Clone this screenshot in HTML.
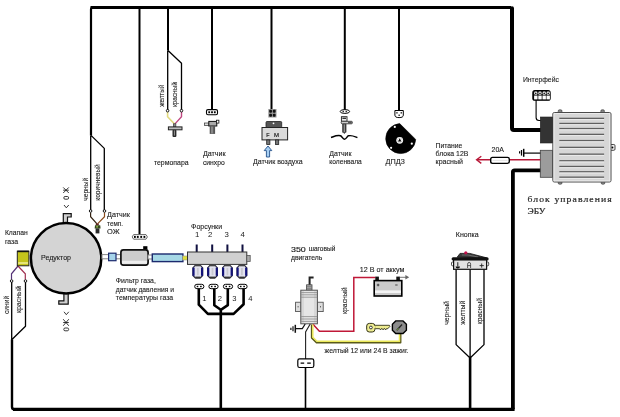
<!DOCTYPE html>
<html><head><meta charset="utf-8">
<style>
html,body{margin:0;padding:0;background:#fff;width:620px;height:417px;overflow:hidden}
svg{display:block;will-change:transform}
text{font-family:"Liberation Sans",sans-serif;fill:#222}
.m{font-family:"Liberation Mono",monospace}
text.s{font-family:"Liberation Serif",serif}
</style></head><body>
<svg width="620" height="417" viewBox="0 0 620 417">
<g fill="none" stroke="#000" stroke-linejoin="round">
<!-- frame -->
<path d="M91 135.4 V9.5 Q91 7.5 93 7.5" stroke-width="2.2"/>
<path d="M90.5 7.5 H511" stroke-width="3"/>
<path d="M512 8.2 V128 Q512 129.9 513.9 129.9 H541" stroke-width="4" stroke-linecap="round"/>
<path d="M541 170.4 H514.6 Q512.9 170.4 512.9 172.1 V409.3" stroke-width="3.8"/>
<path d="M12 339.6 V407 Q12 409.3 14.3 409.3 H512" stroke-width="2.4"/>
<path d="M13 409.4 H514.6" stroke-width="3.1"/>
<!-- top verticals 2px -->
<path d="M139.5 7 V235" stroke-width="2"/>
<path d="M168 7 V50.5" stroke-width="2"/>
<path d="M212 7 V109.5" stroke-width="2"/>
<path d="M271.5 7 V109" stroke-width="2"/>
<path d="M344.8 7 V110" stroke-width="2"/>
<path d="M399 7 V110.5" stroke-width="2"/>
<!-- thin splits -->
<path d="M90.7 135.4 V210 M91 135.4 L104.3 148.4 V210" stroke-width="1.3"/>
<path d="M167.7 50.5 V110 M168 50.5 L181.5 63.2 V110" stroke-width="1.3"/>
<path d="M11.7 281.5 V340 M25.5 281.5 V326.3 L11.7 339.8" stroke-width="1.3"/>
<path d="M456.1 268 V344.6 L470.1 358 M484 268 V344.6 L470.1 358 M470.1 268 V358" stroke-width="1.3"/>
<!-- bottom verticals -->
<path d="M470.1 357.5 V409" stroke-width="2.6"/>
<path d="M305.5 367.5 V409" stroke-width="1.6"/>
</g>

<!-- reducer -->
<path d="M63.3 223 V213.6 H71.2 V217 H67.5 V223 Z" fill="#d0d0d0" stroke="#111" stroke-width="1.2"/>
<path d="M68.2 293 V304.2 H58.8 V300.8 H63.9 V293 Z" fill="#d0d0d0" stroke="#111" stroke-width="1.2"/>
<circle cx="66.1" cy="258.2" r="35.2" fill="#d4d4d4" stroke="#000" stroke-width="2.5"/>
<!-- pipe reducer->filter -->
<rect x="102" y="254.6" width="19" height="4.2" fill="#fff" stroke="#888" stroke-width="1"/>
<rect x="108.6" y="253.2" width="7.4" height="7.5" fill="#a6d4ea" stroke="#1c2a6e" stroke-width="1.2"/>
<rect x="143.2" y="246.2" width="4.2" height="3.5" fill="#000"/>
<rect x="120.9" y="249.9" width="27.2" height="15.2" rx="2.5" fill="#cdcdcd" stroke="#111" stroke-width="1.7"/>
<rect x="122" y="260.8" width="25" height="3" fill="#eeeeee"/>
<rect x="148" y="255" width="5" height="4" fill="#fff" stroke="#888" stroke-width="1"/>
<rect x="152.3" y="254" width="30.6" height="7.6" fill="#a6d8e6" stroke="#1c2a6e" stroke-width="1.4"/>
<rect x="182.6" y="256" width="4.8" height="4" fill="#e0e040" stroke="#999" stroke-width="0.6"/>
<!-- rail -->
<path d="M196.7 244.4 V252 M212.2 244.4 V252 M227.4 244.4 V252 M242.5 244.4 V252" stroke="#101040" stroke-width="2"/>
<rect x="187.5" y="252" width="59.3" height="12.4" fill="#d0d0d0" stroke="#333" stroke-width="1"/>
<rect x="246.8" y="255.4" width="3.4" height="6" fill="#aaa" stroke="#555" stroke-width="0.8"/>
<path d="M195.4 265.2 H200.2 L202.7 267.9 V275.5 L200.2 278 H195.4 L192.9 275.5 V267.9 Z" fill="#e2e2ee" stroke="#2a2a3a" stroke-width="1.1" stroke-linejoin="round"/>
<rect x="192.5" y="267.6" width="2.1" height="8.2" fill="#12127a"/><rect x="201.0" y="267.6" width="2.1" height="8.2" fill="#12127a"/>
<rect x="195.3" y="264.5" width="5.0" height="1.8" fill="#444"/>
<rect x="195.3" y="276.6" width="5.0" height="1.9" fill="#333"/>
<rect x="196.9" y="268" width="1.8" height="7.2" fill="#c8c8d0"/>
<path d="M210.1 265.2 H214.9 L217.4 267.9 V275.5 L214.9 278 H210.1 L207.6 275.5 V267.9 Z" fill="#e2e2ee" stroke="#2a2a3a" stroke-width="1.1" stroke-linejoin="round"/>
<rect x="207.2" y="267.6" width="2.1" height="8.2" fill="#12127a"/><rect x="215.7" y="267.6" width="2.1" height="8.2" fill="#12127a"/>
<rect x="210.0" y="264.5" width="5.0" height="1.8" fill="#444"/>
<rect x="210.0" y="276.6" width="5.0" height="1.9" fill="#333"/>
<rect x="211.6" y="268" width="1.8" height="7.2" fill="#c8c8d0"/>
<path d="M225.0 265.2 H229.8 L232.3 267.9 V275.5 L229.8 278 H225.0 L222.5 275.5 V267.9 Z" fill="#e2e2ee" stroke="#2a2a3a" stroke-width="1.1" stroke-linejoin="round"/>
<rect x="222.1" y="267.6" width="2.1" height="8.2" fill="#12127a"/><rect x="230.6" y="267.6" width="2.1" height="8.2" fill="#12127a"/>
<rect x="224.9" y="264.5" width="5.0" height="1.8" fill="#444"/>
<rect x="224.9" y="276.6" width="5.0" height="1.9" fill="#333"/>
<rect x="226.5" y="268" width="1.8" height="7.2" fill="#c8c8d0"/>
<path d="M239.5 265.2 H244.3 L246.8 267.9 V275.5 L244.3 278 H239.5 L237.0 275.5 V267.9 Z" fill="#e2e2ee" stroke="#2a2a3a" stroke-width="1.1" stroke-linejoin="round"/>
<rect x="236.6" y="267.6" width="2.1" height="8.2" fill="#12127a"/><rect x="245.1" y="267.6" width="2.1" height="8.2" fill="#12127a"/>
<rect x="239.4" y="264.5" width="5.0" height="1.8" fill="#444"/>
<rect x="239.4" y="276.6" width="5.0" height="1.9" fill="#333"/>
<rect x="241.0" y="268" width="1.8" height="7.2" fill="#c8c8d0"/>
<rect x="194.70000000000002" y="284.3" width="9.2" height="4.4" rx="2.2" fill="#fff" stroke="#000" stroke-width="1"/>
<rect x="196.70000000000002" y="285.8" width="1.6" height="1.4" fill="#000"/><rect x="200.10000000000002" y="285.8" width="1.6" height="1.4" fill="#000"/>
<rect x="208.9" y="284.3" width="9.2" height="4.4" rx="2.2" fill="#fff" stroke="#000" stroke-width="1"/>
<rect x="210.9" y="285.8" width="1.6" height="1.4" fill="#000"/><rect x="214.3" y="285.8" width="1.6" height="1.4" fill="#000"/>
<rect x="223.4" y="284.3" width="9.2" height="4.4" rx="2.2" fill="#fff" stroke="#000" stroke-width="1"/>
<rect x="225.4" y="285.8" width="1.6" height="1.4" fill="#000"/><rect x="228.8" y="285.8" width="1.6" height="1.4" fill="#000"/>
<rect x="237.9" y="284.3" width="9.2" height="4.4" rx="2.2" fill="#fff" stroke="#000" stroke-width="1"/>
<rect x="239.9" y="285.8" width="1.6" height="1.4" fill="#000"/><rect x="243.3" y="285.8" width="1.6" height="1.4" fill="#000"/>
<path d="M198.8 288.6 V304.7 L207.9 313.9 H220.8 M214.3 288.6 V305.2 L220.8 309.8 M227.8 288.6 V305.2 L220.8 309.8 M243.6 288.6 V304.2 L233.6 313.9 H220.8 M220.8 309.5 V409" fill="none" stroke="#000" stroke-width="2.6" stroke-linejoin="round"/>

<!-- gas valve -->
<path d="M18 266 L11.5 273.8 V279.5" fill="none" stroke="#553377" stroke-width="1.2"/>
<path d="M18 266 L25.3 273.8 V279.5" fill="none" stroke="#a03050" stroke-width="1.2"/>
<rect x="17.3" y="251.2" width="11.6" height="14.6" fill="#c4c41c" stroke="#222" stroke-width="1"/>
<rect x="17.3" y="250.6" width="11.6" height="1.6" fill="#111"/>
<rect x="18.2" y="262.3" width="9.8" height="1.4" fill="#f4f4a0"/>
<circle cx="11.6" cy="281" r="1.3" fill="#fff" stroke="#000" stroke-width="0.9"/>
<circle cx="25.5" cy="281" r="1.3" fill="#fff" stroke="#000" stroke-width="0.9"/>
<!-- temp sensor OZh -->
<path d="M90.6 212.4 V216.7 L97 223.9" fill="none" stroke="#332211" stroke-width="1.2"/>
<path d="M104.5 212.4 V216.7 L97.5 223.9" fill="none" stroke="#8a4a1a" stroke-width="1.2"/>
<circle cx="90.6" cy="211" r="1.3" fill="#fff" stroke="#000" stroke-width="0.9"/>
<circle cx="104.5" cy="211" r="1.3" fill="#fff" stroke="#000" stroke-width="0.9"/>
<rect x="95.8" y="223.6" width="3" height="1.8" fill="#602020"/>
<path d="M95 225.2 H100.2 L100.6 228.6 H94.6 Z" fill="#34481c"/>
<rect x="96.2" y="225.8" width="1.8" height="1.8" fill="#88a848"/>
<rect x="95.6" y="228.4" width="3.8" height="5" fill="#2a2a2a"/>
<!-- connector 4 pin -->
<path d="M133.6 234.6 H146 L147.4 236.9 L146 239.2 H133.6 L132.2 236.9 Z" fill="#fff" stroke="#666" stroke-width="1"/>
<rect x="134" y="235.9" width="1.8" height="2" fill="#000"/><rect x="136.9" y="235.9" width="1.8" height="2" fill="#000"/><rect x="140.3" y="235.9" width="1.8" height="2" fill="#000"/><rect x="143.5" y="235.9" width="1.8" height="2" fill="#000"/>

<!-- thermocouple -->
<path d="M167.6 112 V116.7 L174.4 123.9" fill="none" stroke="#e2da80" stroke-width="1.6"/>
<path d="M181.5 112 V116.7 L175 123.9" fill="none" stroke="#c04880" stroke-width="1.4"/>
<circle cx="167.6" cy="110.7" r="1.3" fill="#fff" stroke="#000" stroke-width="0.9"/>
<circle cx="181.5" cy="110.7" r="1.3" fill="#fff" stroke="#000" stroke-width="0.9"/>
<rect x="173.3" y="123.8" width="2.6" height="3.2" fill="#888" stroke="#333" stroke-width="0.6"/>
<rect x="168.4" y="126.9" width="13.6" height="2.9" fill="#bbb" stroke="#222" stroke-width="1"/>
<rect x="172.5" y="129.8" width="3.9" height="7.2" rx="1" fill="#2a2a2a"/>
<rect x="173.9" y="130.4" width="1.1" height="5.2" fill="#8a8a8a"/>
<!-- sinhro -->
<rect x="206.5" y="109.6" width="11" height="5.2" rx="1.5" fill="#fff" stroke="#000" stroke-width="1.1"/>
<rect x="208.3" y="111.3" width="1.8" height="1.9" fill="#000"/><rect x="211.1" y="111.3" width="1.8" height="1.9" fill="#000"/><rect x="213.9" y="111.3" width="1.8" height="1.9" fill="#000"/>
<rect x="204.5" y="123" width="4.6" height="2.6" fill="#ddd" stroke="#333" stroke-width="0.7"/>
<rect x="208.8" y="121.4" width="8" height="4.6" fill="#aaa" stroke="#111" stroke-width="1"/>
<rect x="216.4" y="120.2" width="2.5" height="2.9" fill="#fff" stroke="#111" stroke-width="0.8"/>
<rect x="209.7" y="126" width="5.4" height="7.9" fill="#555"/>
<rect x="211" y="126.5" width="2.2" height="7" fill="#888"/>
<!-- air sensor -->
<rect x="268.3" y="109" width="8.2" height="8.5" fill="#999"/>
<rect x="269.2" y="109.8" width="2.8" height="3" rx="1" fill="#111"/><rect x="272.8" y="109.8" width="2.8" height="3" rx="1" fill="#111"/>
<rect x="269.2" y="113.8" width="2.8" height="3" rx="1" fill="#111"/><rect x="272.8" y="113.8" width="2.8" height="3" rx="1" fill="#111"/>
<rect x="266" y="121.5" width="15.7" height="6" rx="1" fill="#555" stroke="#222" stroke-width="0.8"/>
<circle cx="273.5" cy="123.3" r="0.9" fill="#fff"/>
<rect x="262" y="127.5" width="25.6" height="12.4" fill="#dadada" stroke="#222" stroke-width="1"/>
<text x="266.3" y="137.1" font-size="5.4" fill="#2a2a2a" stroke="#2a2a2a" stroke-width="0.2">F</text><text x="274" y="137.1" font-size="5.4" textLength="5" lengthAdjust="spacingAndGlyphs" fill="#2a2a2a" stroke="#2a2a2a" stroke-width="0.2">M</text>
<rect x="266.7" y="139.9" width="3.2" height="4.6" fill="#777" stroke="#222" stroke-width="0.8"/>
<rect x="275.5" y="139.9" width="3.2" height="4.6" fill="#777" stroke="#222" stroke-width="0.8"/>
<path d="M268 146 L271.8 150.6 H269.6 V157 H266.4 V150.6 H264.2 Z" fill="#a8d0f4" stroke="#24508a" stroke-width="0.9"/>
<!-- crank sensor -->
<ellipse cx="344.9" cy="111.5" rx="4.7" ry="1.9" fill="#fff" stroke="#000" stroke-width="1"/>
<rect x="342.6" y="110.9" width="1.2" height="1.2" fill="#000"/><rect x="345.6" y="110.9" width="1.2" height="1.2" fill="#000"/>
<rect x="341.4" y="116.7" width="5.6" height="4.6" fill="#eee" stroke="#222" stroke-width="0.9"/>
<rect x="342.4" y="117.6" width="3.6" height="1.4" fill="#333"/>
<rect x="341.2" y="121.3" width="11.2" height="2.5" rx="1" fill="#ccc" stroke="#222" stroke-width="0.8"/><rect x="348" y="121.6" width="3.8" height="1.9" fill="#555"/>
<rect x="342.2" y="123.8" width="4.2" height="8.9" rx="0.8" fill="#3a3a3a"/><path d="M343.3 132.5 L344.3 134 L345.3 132.5 Z" fill="#222"/>
<rect x="343.7" y="124.4" width="1.2" height="7.6" fill="#9a9a9a"/>
<path d="M331 137.5 C334 136.5 337 135 340.5 135.8 C342 136.2 342.6 139.2 344.4 139.2 C346.4 139.2 347 136.2 348.5 135.8 C351.8 135 354.6 136.5 357.4 137.6" fill="none" stroke="#000" stroke-width="1.5"/>
<!-- DPDZ -->
<path d="M394.9 110.5 H403.3 V115.2 Q403.3 117.6 399.1 117.6 Q394.9 117.6 394.9 115.2 Z" fill="#fff" stroke="#000" stroke-width="1"/>
<rect x="396.3" y="112.2" width="1.3" height="1.3" fill="#000"/><rect x="400.6" y="112.2" width="1.3" height="1.3" fill="#000"/><rect x="398.5" y="114.6" width="1.3" height="1.3" fill="#000"/>
<path d="M399.7 123.6 L415.7 139.4 A15 15 0 1 1 399.7 123.6 Z" fill="#000" stroke="#000" stroke-width="0.6" stroke-linejoin="round"/>
<circle cx="394.8" cy="126.9" r="1.1" fill="#fff"/>
<circle cx="411.8" cy="143.7" r="1.1" fill="#fff"/>
<circle cx="391.1" cy="147.8" r="1.1" fill="#fff"/>
<circle cx="399.7" cy="140.3" r="3.4" fill="#fff"/><circle cx="399.7" cy="140.3" r="2.4" fill="none" stroke="#aaa" stroke-width="0.5"/>
<path d="M399.7 138.2 L401.4 141.4 H398 Z" fill="#000"/>

<!-- interface connector -->
<path d="M536.1 100 V117.5 Q536.1 120.5 539 120.5 H541" fill="none" stroke="#000" stroke-width="1.1"/>
<rect x="532.9" y="90.7" width="17.2" height="9.5" rx="2" fill="#111" stroke="#000" stroke-width="1.2"/>
<rect x="534.2" y="91.6" width="3.2" height="3.2" rx="1.3" fill="#fff"/><circle cx="535.8" cy="93.4" r="0.8" fill="#111"/><rect x="534.1" y="95.6" width="3.4" height="3.8" fill="#fff"/>
<rect x="538.4" y="91.6" width="3.2" height="3.2" rx="1.3" fill="#fff"/><circle cx="540.0" cy="93.4" r="0.8" fill="#111"/><rect x="538.3" y="95.6" width="3.4" height="3.8" fill="#fff"/>
<rect x="542.6" y="91.6" width="3.2" height="3.2" rx="1.3" fill="#fff"/><circle cx="544.2" cy="93.4" r="0.8" fill="#111"/><rect x="542.5" y="95.6" width="3.4" height="3.8" fill="#fff"/>
<rect x="546.6" y="91.6" width="3.2" height="3.2" rx="1.3" fill="#fff"/><circle cx="548.2" cy="93.4" r="0.8" fill="#111"/><rect x="546.5" y="95.6" width="3.4" height="3.8" fill="#fff"/>
<!-- ECU -->
<rect x="558.2" y="109.8" width="3.8" height="3" rx="1.2" fill="#888" stroke="#333" stroke-width="0.6"/>
<rect x="600.8" y="109.8" width="3.6" height="3" rx="1.2" fill="#888" stroke="#333" stroke-width="0.6"/>
<rect x="558.2" y="181" width="3.8" height="3.2" rx="1.2" fill="#888" stroke="#333" stroke-width="0.6"/>
<rect x="601.2" y="181" width="3.6" height="3.2" rx="1.2" fill="#888" stroke="#333" stroke-width="0.6"/>
<rect x="608" y="144.5" width="7" height="5.8" rx="1.2" fill="#eee" stroke="#333" stroke-width="0.9"/>
<circle cx="612.4" cy="147.4" r="1" fill="#000"/>
<rect x="552.8" y="112.5" width="58.2" height="69.5" rx="1.5" fill="#d6d6d6" stroke="#4a4a4a" stroke-width="1"/>
<rect x="554" y="113.6" width="55.8" height="67.3" fill="none" stroke="#f0f0f0" stroke-width="0.8"/>
<rect x="559.3" y="117.7" width="44.8" height="1.4" fill="#606060"/><rect x="559.3" y="119.1" width="44.8" height="1" fill="#ececec"/><rect x="559.3" y="122.8" width="44.8" height="1.4" fill="#606060"/><rect x="559.3" y="124.2" width="44.8" height="1" fill="#ececec"/><rect x="559.3" y="127.9" width="44.8" height="1.4" fill="#606060"/><rect x="559.3" y="129.3" width="44.8" height="1" fill="#ececec"/><rect x="559.3" y="133.7" width="44.8" height="1.4" fill="#606060"/><rect x="559.3" y="135.1" width="44.8" height="1" fill="#ececec"/><rect x="559.3" y="139.9" width="44.8" height="1.4" fill="#606060"/><rect x="559.3" y="141.3" width="44.8" height="1" fill="#ececec"/><rect x="559.3" y="146.7" width="44.8" height="1.4" fill="#606060"/><rect x="559.3" y="148.1" width="44.8" height="1" fill="#ececec"/><rect x="559.3" y="153.5" width="44.8" height="1.4" fill="#606060"/><rect x="559.3" y="154.9" width="44.8" height="1" fill="#ececec"/><rect x="559.3" y="160.1" width="44.8" height="1.4" fill="#606060"/><rect x="559.3" y="161.5" width="44.8" height="1" fill="#ececec"/><rect x="559.3" y="165.8" width="44.8" height="1.4" fill="#606060"/><rect x="559.3" y="167.2" width="44.8" height="1" fill="#ececec"/><rect x="559.3" y="171.1" width="44.8" height="1.4" fill="#606060"/><rect x="559.3" y="172.5" width="44.8" height="1" fill="#ececec"/><rect x="559.3" y="176.5" width="44.8" height="1.4" fill="#606060"/><rect x="559.3" y="177.9" width="44.8" height="1" fill="#ececec"/>
<rect x="540.3" y="117" width="12.2" height="26" fill="#333" stroke="#222" stroke-width="0.6"/>
<rect x="540.3" y="150.3" width="12.2" height="27" fill="#9c9c9c" stroke="#444" stroke-width="0.8"/>
<!-- power / fuse / ground -->
<path d="M523.5 153.1 H540.3" stroke="#000" stroke-width="1.2"/>
<path d="M523.7 148.8 V156.8" stroke="#000" stroke-width="1.5"/><path d="M521.5 150 V155.6" stroke="#000" stroke-width="1.2"/><path d="M519.6 151.3 V153.5" stroke="#000" stroke-width="1.2"/>
<path d="M477 159.8 H540.3" stroke="#b81838" stroke-width="1.5"/>
<path d="M481.3 156.2 L476.6 159.8 L481.3 163.4" fill="none" stroke="#b81838" stroke-width="1.4"/>
<rect x="490.7" y="157.4" width="18.6" height="6" rx="1.8" fill="#fff" stroke="#000" stroke-width="1.4"/>
<path d="M492.5 160.4 H507.5" stroke="#ddd" stroke-width="0.8"/>

<!-- button -->
<path d="M457.2 257.2 L460 253.4 H469.8 L486.5 257.8 Z" fill="#3a3a3a" stroke="#111" stroke-width="0.8"/>
<path d="M462 255 H468 L478 257" fill="none" stroke="#777" stroke-width="0.8"/>
<circle cx="465.8" cy="252.8" r="1.6" fill="#c0104a"/>
<rect x="451.5" y="262" width="2.4" height="3.8" rx="1" fill="#fff" stroke="#222" stroke-width="0.8"/>
<rect x="486.3" y="262" width="2.4" height="3.8" rx="1" fill="#fff" stroke="#222" stroke-width="0.8"/>
<rect x="453.6" y="259.5" width="33" height="9.8" fill="#e2e2e2" stroke="#111" stroke-width="1.2"/>
<rect x="451.6" y="257.2" width="37" height="3.4" rx="1.5" fill="#111"/>
<path d="M457.8 262.2 V266.4" stroke="#111" stroke-width="0.9"/>
<path d="M455.6 266.4 H460 Q460 268.4 457.8 268.4 Q455.6 268.4 455.6 266.4 Z" fill="#111"/>
<path d="M467.6 268 V264.2 Q467.6 262.4 469.2 262.4 Q470.6 262.4 470.6 264.2 V268 M467.6 265.6 H470.6" fill="none" stroke="#333" stroke-width="0.8"/>
<path d="M479.6 265.6 H483.8 M481.7 263.5 V267.7" stroke="#222" stroke-width="0.9"/>
<!-- stepper -->
<path d="M309.6 285 V277.6 H313.6" fill="none" stroke="#222" stroke-width="2"/>
<rect x="306.6" y="284.8" width="5.4" height="5.4" fill="#aaa" stroke="#444" stroke-width="0.8"/>
<path d="M306.8 286.6 H311.8 M306.8 288.4 H311.8" stroke="#666" stroke-width="0.6"/>
<rect x="295.6" y="302.2" width="5.4" height="9.4" fill="#ddd" stroke="#444" stroke-width="0.8"/>
<rect x="317.2" y="302.2" width="6" height="9.4" fill="#ddd" stroke="#444" stroke-width="0.8"/>
<rect x="297.6" y="306.3" width="1" height="1" fill="#333"/><rect x="320" y="306.3" width="1" height="1" fill="#333"/>
<rect x="300.8" y="290.2" width="16.6" height="33.6" fill="#d8d8d8" stroke="#555" stroke-width="1"/>
<rect x="304" y="291" width="10" height="32" fill="#e6e6e6"/>
<path d="M301 292.6 H317.2 M301 294.8 H317.2 M301 297.2 H317.2 M301 316.6 H317.2 M301 319 H317.2 M301 321.4 H317.2" stroke="#8a8a8a" stroke-width="0.8"/>
<path d="M305.2 324 L302.3 328.6 H295.2" fill="none" stroke="#111" stroke-width="1.2"/>
<path d="M295.3 324.8 V332.8" stroke="#111" stroke-width="1.5"/><path d="M293 326.3 V331.3" stroke="#111" stroke-width="1.2"/><path d="M290.9 327.7 V329.9" stroke="#111" stroke-width="1.2"/>
<path d="M310.2 324 L305.6 332 V359" fill="none" stroke="#222" stroke-width="1.1"/>
<path d="M313 324.2 L319.4 331.2 H353.8 V277.4 H375.5" fill="none" stroke="#c01838" stroke-width="1.5"/>
<path d="M311.7 324.4 V337.9 L316.5 342.6 H400.6 V333.4" fill="none" stroke="#5a5a1a" stroke-width="1.7" stroke-linejoin="round"/>
<path d="M312.8 324.4 V337.3 L317 341.2 H399.5 V333.4" fill="none" stroke="#ecea5a" stroke-width="1.5" stroke-linejoin="round"/>
<rect x="297.8" y="358.9" width="16" height="8.6" rx="1.8" fill="#fff" stroke="#000" stroke-width="1.2"/>
<path d="M300.6 363.2 H304.2 M307.2 363.2 H310.8" stroke="#000" stroke-width="1.2"/>
<!-- battery -->
<rect x="375.3" y="276.6" width="3.6" height="3.8" fill="#111"/>
<rect x="396.3" y="276.6" width="3.6" height="3.8" fill="#111"/>
<path d="M399.8 277.3 H406" stroke="#666" stroke-width="0.9"/>
<path d="M405.4 275 L409.2 277.3 L405.4 279.6 Z" fill="#666"/>
<rect x="374.2" y="280.6" width="27.6" height="15.4" fill="#cacaca" stroke="#000" stroke-width="1.6"/>
<rect x="375" y="290.4" width="26" height="2.6" fill="#f4f4f4"/>
<path d="M376.8 285 H379.4 M378.1 283.7 V286.3" stroke="#222" stroke-width="0.8"/>
<path d="M395.2 285 H397.6" stroke="#222" stroke-width="0.8"/>
<!-- key -->
<path d="M374.2 325.3 H389.4 L389.9 326.4 L387.8 328.7 H386.4 L385.7 329.9 L384.9 328.7 H383.8 L383.1 329.9 L382.3 328.7 H381.2 L380.5 329.9 L379.7 328.7 H374.2 Z" fill="#eeec90" stroke="#333318" stroke-width="0.9" stroke-linejoin="round"/>
<rect x="366.7" y="323.4" width="8.2" height="8.6" rx="2.6" fill="#eeec90" stroke="#333318" stroke-width="1"/>
<rect x="374" y="325.8" width="1.6" height="2.5" fill="#eeec90"/>
<circle cx="370.9" cy="327.5" r="1.4" fill="#fff" stroke="#333" stroke-width="1"/>
<!-- ignition -->
<path d="M395.7 320.9 H403 L406.4 324.3 V330.2 L403 333.5 H395.7 L392.4 330.2 V324.3 Z" fill="#8c8c8c" stroke="#000" stroke-width="1.4"/>
<path d="M396.8 330.2 L402 324.5" stroke="#222" stroke-width="1.3"/>
<path d="M396.9 330.1 L398.6 328.2" stroke="#6a9a30" stroke-width="1"/>
<!-- texts -->
<g fill="none" stroke="#222" stroke-width="0.9"><path d="M63.2 190.2 H68.8 M63.2 187.4 L68.8 193.0 M63.2 193.0 L68.8 187.4"/><rect x="63.8" y="196.5" width="4.8" height="2.7" rx="1.3"/><path d="M64.0 205.0 L66.30 207.8 L68.8 205.0"/></g><g fill="none" stroke="#222" stroke-width="0.9"><path d="M63.2 322.5 H68.8 M63.2 319.2 L68.8 325.8 M63.2 325.8 L68.8 319.2"/><rect x="63.8" y="328" width="4.8" height="2.8" rx="1.3"/><path d="M64.0 311.8 L66.30 314.7 L68.8 311.8"/></g>
<text x="153.9" y="164.6" font-size="8" textLength="34.8" lengthAdjust="spacingAndGlyphs" fill="#1e1e1e" stroke="#1e1e1e" stroke-width="0.12">термопара</text>
<text x="202.9" y="156.2" font-size="8" textLength="22.6" lengthAdjust="spacingAndGlyphs" fill="#1e1e1e" stroke="#1e1e1e" stroke-width="0.12">Датчик</text>
<text x="202.9" y="164.6" font-size="8" textLength="21.9" lengthAdjust="spacingAndGlyphs" fill="#1e1e1e" stroke="#1e1e1e" stroke-width="0.12">синхро</text>
<text x="252.9" y="164.3" font-size="8" textLength="49.7" lengthAdjust="spacingAndGlyphs" fill="#1e1e1e" stroke="#1e1e1e" stroke-width="0.12">Датчик воздуха</text>
<text x="329.3" y="155.8" font-size="8" textLength="22.2" lengthAdjust="spacingAndGlyphs" fill="#1e1e1e" stroke="#1e1e1e" stroke-width="0.12">Датчик</text>
<text x="329.3" y="164.3" font-size="8" textLength="32.5" lengthAdjust="spacingAndGlyphs" fill="#1e1e1e" stroke="#1e1e1e" stroke-width="0.12">коленвала</text>
<text x="385.6" y="164.1" font-size="8" textLength="19.4" lengthAdjust="spacingAndGlyphs" fill="#1e1e1e" stroke="#1e1e1e" stroke-width="0.12">ДПДЗ</text>
<text x="435.6" y="147.7" font-size="8" textLength="26.7" lengthAdjust="spacingAndGlyphs" fill="#1e1e1e" stroke="#1e1e1e" stroke-width="0.12">Питание</text>
<text x="435.6" y="156.4" font-size="8" textLength="32.8" lengthAdjust="spacingAndGlyphs" fill="#1e1e1e" stroke="#1e1e1e" stroke-width="0.12">блока 12В</text>
<text x="435.6" y="164.1" font-size="8" textLength="27.4" lengthAdjust="spacingAndGlyphs" fill="#1e1e1e" stroke="#1e1e1e" stroke-width="0.12">красный</text>
<text x="491.5" y="152.1" font-size="8" textLength="12.4" lengthAdjust="spacingAndGlyphs" fill="#1e1e1e" stroke="#1e1e1e" stroke-width="0.12">20А</text>
<text x="522.9" y="82.1" font-size="8" textLength="36" lengthAdjust="spacingAndGlyphs" fill="#1e1e1e" stroke="#1e1e1e" stroke-width="0.12">Интерфейс</text>
<text x="527.5" y="201.8" font-size="9" class="s" textLength="85.3" lengthAdjust="spacingAndGlyphs" fill="#2a2a2a" stroke="#2a2a2a" stroke-width="0.2" letter-spacing="1">блок управления</text>
<text x="527.5" y="213.6" font-size="8.6" class="s" textLength="17.9" lengthAdjust="spacingAndGlyphs" fill="#2a2a2a" stroke="#2a2a2a" stroke-width="0.2">ЭБУ</text>
<text x="4.9" y="234.7" font-size="8" textLength="22.8" lengthAdjust="spacingAndGlyphs" fill="#1e1e1e" stroke="#1e1e1e" stroke-width="0.12">Клапан</text>
<text x="4.9" y="243.6" font-size="8" textLength="13.2" lengthAdjust="spacingAndGlyphs" fill="#1e1e1e" stroke="#1e1e1e" stroke-width="0.12">газа</text>
<text x="41" y="259.6" font-size="7.8" textLength="30" lengthAdjust="spacingAndGlyphs" fill="#1e1e1e" stroke="#1e1e1e" stroke-width="0.12">Редуктор</text>
<text x="107.1" y="216.7" font-size="8" textLength="22.7" lengthAdjust="spacingAndGlyphs" fill="#1e1e1e" stroke="#1e1e1e" stroke-width="0.12">Датчик</text>
<text x="107.1" y="225.5" font-size="8" textLength="15.9" lengthAdjust="spacingAndGlyphs" fill="#1e1e1e" stroke="#1e1e1e" stroke-width="0.12">темп.</text>
<text x="107.1" y="233.5" font-size="8" textLength="12.6" lengthAdjust="spacingAndGlyphs" fill="#1e1e1e" stroke="#1e1e1e" stroke-width="0.12">ОЖ</text>
<text x="115.8" y="283.1" font-size="8" textLength="40" lengthAdjust="spacingAndGlyphs" fill="#1e1e1e" stroke="#1e1e1e" stroke-width="0.12">Фильтр газа,</text>
<text x="115.8" y="292.1" font-size="8" textLength="58.1" lengthAdjust="spacingAndGlyphs" fill="#1e1e1e" stroke="#1e1e1e" stroke-width="0.12">датчик давления и</text>
<text x="115.8" y="299.8" font-size="8" textLength="57.4" lengthAdjust="spacingAndGlyphs" fill="#1e1e1e" stroke="#1e1e1e" stroke-width="0.12">температуры газа</text>
<text x="191.1" y="228.5" font-size="8" textLength="31" lengthAdjust="spacingAndGlyphs" fill="#1e1e1e" stroke="#1e1e1e" stroke-width="0.12">Форсунки</text>
<text x="195" y="237" font-size="7.8" fill="#1e1e1e">1</text>
<text x="208.1" y="237" font-size="7.8" fill="#1e1e1e">2</text>
<text x="224.6" y="237" font-size="7.8" fill="#1e1e1e">3</text>
<text x="240.6" y="237" font-size="7.8" fill="#1e1e1e">4</text>
<text x="202.3" y="300.6" font-size="7.6" fill="#666">1</text>
<text x="217.8" y="300.6" font-size="7.6" fill="#666">2</text>
<text x="232.3" y="300.6" font-size="7.6" fill="#666">3</text>
<text x="248.3" y="300.6" font-size="7.6" fill="#666">4</text>
<text x="291" y="251.5" font-size="6.8" textLength="14.8" lengthAdjust="spacingAndGlyphs" fill="#1e1e1e" stroke="#1e1e1e" stroke-width="0.15">350</text>
<text x="308.7" y="251.4" font-size="6.8" textLength="26.6" lengthAdjust="spacingAndGlyphs" fill="#1e1e1e" stroke="#1e1e1e" stroke-width="0.12">шаговый</text>
<text x="291" y="260.3" font-size="6.8" textLength="31.3" lengthAdjust="spacingAndGlyphs" fill="#1e1e1e" stroke="#1e1e1e" stroke-width="0.12">двигатель</text>
<text x="359.8" y="271.6" font-size="7.4" textLength="44.6" lengthAdjust="spacingAndGlyphs" fill="#1e1e1e" stroke="#1e1e1e" stroke-width="0.12">12 В от аккум</text>
<text x="324.6" y="352.6" font-size="7.2" textLength="83.9" lengthAdjust="spacingAndGlyphs" fill="#1e1e1e" stroke="#1e1e1e" stroke-width="0.12">желтый 12 или 24 В зажиг.</text>
<text x="455.8" y="236.5" font-size="8" textLength="22.8" lengthAdjust="spacingAndGlyphs" fill="#1e1e1e" stroke="#1e1e1e" stroke-width="0.12">Кнопка</text>
<text transform="translate(164.3,106.8) rotate(-90)" font-size="6.9" textLength="22" lengthAdjust="spacingAndGlyphs" fill="#1e1e1e" stroke="#1e1e1e" stroke-width="0.1">желтый</text>
<text transform="translate(177.4,107.1) rotate(-90)" font-size="6.9" textLength="25" lengthAdjust="spacingAndGlyphs" fill="#1e1e1e" stroke="#1e1e1e" stroke-width="0.1">красный</text>
<text transform="translate(87.6,200.8) rotate(-90)" font-size="6.9" textLength="23.1" lengthAdjust="spacingAndGlyphs" fill="#1e1e1e" stroke="#1e1e1e" stroke-width="0.1">черный</text>
<text transform="translate(99.8,200.8) rotate(-90)" font-size="6.9" textLength="36.6" lengthAdjust="spacingAndGlyphs" fill="#1e1e1e" stroke="#1e1e1e" stroke-width="0.1">коричневый</text>


<text transform="translate(9.4,314) rotate(-90)" font-size="6.9" textLength="18.2" lengthAdjust="spacingAndGlyphs" fill="#1e1e1e" stroke="#1e1e1e" stroke-width="0.1">синий</text>
<text transform="translate(21.1,313.1) rotate(-90)" font-size="6.9" textLength="27.1" lengthAdjust="spacingAndGlyphs" fill="#1e1e1e" stroke="#1e1e1e" stroke-width="0.1">красный</text>
<text transform="translate(347.3,313.9) rotate(-90)" font-size="6.9" textLength="26.4" lengthAdjust="spacingAndGlyphs" fill="#1e1e1e" stroke="#1e1e1e" stroke-width="0.1">красный</text>
<text transform="translate(448.6,324.8) rotate(-90)" font-size="6.9" textLength="23.7" lengthAdjust="spacingAndGlyphs" fill="#1e1e1e" stroke="#1e1e1e" stroke-width="0.1">черный</text>
<text transform="translate(464.7,324.8) rotate(-90)" font-size="6.9" textLength="24.2" lengthAdjust="spacingAndGlyphs" fill="#1e1e1e" stroke="#1e1e1e" stroke-width="0.1">желтый</text>
<text transform="translate(482,324.3) rotate(-90)" font-size="6.9" textLength="26.2" lengthAdjust="spacingAndGlyphs" fill="#1e1e1e" stroke="#1e1e1e" stroke-width="0.1">красный</text>
</svg>
</body></html>
